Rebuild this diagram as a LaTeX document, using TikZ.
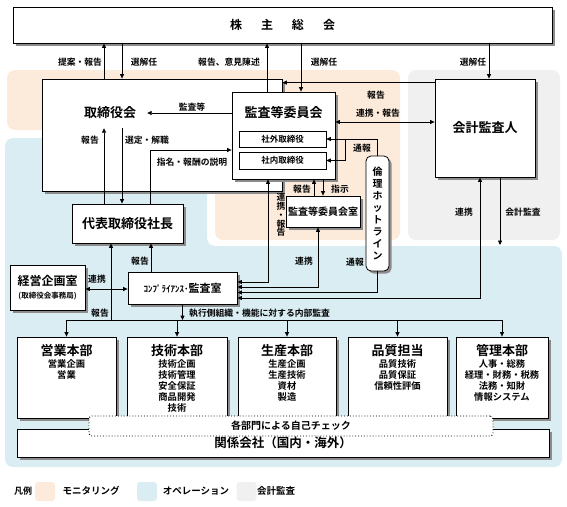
\documentclass[tikz,border=0pt]{standalone}
\usepackage{fontspec}
\setmainfont{Noto Sans CJK JP Bold}
\usetikzlibrary{shadows,arrows.meta}

\definecolor{monitor}{HTML}{FCEADA}
\definecolor{operate}{HTML}{DAEDF3}
\definecolor{audit}{HTML}{F0F0F0}

\tikzstyle{block} = [rectangle, draw=black, fill=white, line width=0.8pt, inner sep=0pt, drop shadow={shadow xshift=2.5pt, shadow yshift=-2.5pt, fill=black!45, opacity=1}]
\tikzstyle{member} = [rectangle, draw=black, fill=white, line width=0.6pt, inner sep=0pt, minimum width=87pt, font=\fontsize{8.5}{10}\selectfont]
\tikzstyle{arrow} = [line width=0.75pt, -{Triangle[length=4.5pt,width=4pt]}]
\tikzstyle{biarrow} = [line width=0.75pt, {Triangle[length=4.5pt,width=4pt]}-{Triangle[length=4.5pt,width=4pt]}]
\tikzstyle{note} = [inner sep=0pt, font=\fontsize{8.8}{10}\selectfont]
\tikzstyle{swatch} = [rectangle, rounded corners=3pt, minimum width=20pt, minimum height=19pt]

\begin{document}
\begin{tikzpicture}[x=1pt, y=-1pt]
	\useasboundingbox (0,0) rectangle (567,506);

	% areas
	\fill[operate, rounded corners=8pt] (5,467) -- (5,138) -- (207,138) -- (207,246) -- (562,246) -- (562,467) -- cycle;
	\fill[monitor, rounded corners=8pt] (7,70) -- (400,70) -- (400,240) -- (215,240) -- (215,130) -- (7,130) -- cycle;
	\fill[audit, rounded corners=8pt] (408,70) rectangle (560,240);

	% boxes
	\node[block, minimum width=539pt, minimum height=36pt, font=\fontsize{12}{14}\selectfont] (meeting) at (282.5,25) {株\hspace{19pt}主\hspace{19pt}総\hspace{19pt}会};
	\node[block, minimum width=240pt, minimum height=112pt] (board) at (162,135) {};
	\node[inner sep=0pt, minimum width=74pt, minimum height=30pt, font=\fontsize{13}{15}\selectfont] (boardname) at (110,113) {取締役会};
	\node[block, minimum width=103pt, minimum height=87pt] (committee) at (283.5,135.5) {};
	\node[inner sep=0pt, font=\fontsize{13}{15}\selectfont] (committeename) at (283.5,113) {監査等委員会};
	\node[member, minimum height=16pt] (outdir) at (282.5,139) {社外取締役};
	\node[member, minimum height=17pt] (indir) at (282.5,160.5) {社内取締役};
	\node[block, minimum width=100pt, minimum height=98pt, font=\fontsize{13}{15}\selectfont] (auditor) at (485,128) {会計監査人};
	\node[block, minimum width=111pt, minimum height=39pt, font=\fontsize{13}{15}\selectfont] (president) at (127.5,223.5) {代表取締役社長};
	\node[block, minimum width=74pt, minimum height=31pt, font=\fontsize{10}{12}\selectfont] (office) at (323,211.5) {監査等委員会室};
	\node[block, rounded corners=5pt, minimum width=23pt, minimum height=115pt, align=center, font=\fontsize{10}{12.1}\selectfont] (hotline) at (377.5,213.5) {倫\\理\\ホ\\ッ\\ト\\ラ\\イ\\ン};
	\node[block, minimum width=109pt, minimum height=32pt] (compliance) at (182.5,288) {{\fontsize{9}{11}\selectfont ｺﾝﾌﾟﾗｲｱﾝｽ･}{\fontsize{11}{13}\selectfont 監査室}};
	\node[block, minimum width=75pt, minimum height=45pt, align=center] (planning) at (47.5,287.5) {{\fontsize{12}{14}\selectfont 経営企画室}\\[1pt]{\fontsize{7.5}{9}\selectfont (取締役会事務局)}};

	\node[block, minimum width=532pt, minimum height=28pt, font=\fontsize{12.5}{14}\selectfont] (affiliates) at (283,443) {関係会社（国内・海外）};
	\foreach \n/\x/\w/\t/\items in {
		sales/66.5/99/営業本部/{営業企画\\営業},
		tech/177/100/技術本部/{技術企画\\技術管理\\安全保証\\商品開発\\技術},
		prod/287/98/生産本部/{生産企画\\生産技術\\資材\\製造},
		quality/397.5/99/品質担当/{品質技術\\品質保証\\信頼性評価},
		admin/502/92/管理本部/{人事・総務\\経理・財務・税務\\法務・知財\\情報システム}}
	{
		\node[block, minimum width=\w pt, minimum height=81pt] (\n) at (\x,377.5) {};
		\node[inner sep=0pt, font=\fontsize{13}{15}\selectfont] (\n title) at (\x,351) {\t};
		\node[inner sep=0pt, anchor=north, align=center, font=\fontsize{9.3}{11.2}\selectfont] (\n items) at (\x,359) {\items};
	}
	\node[draw=black, dotted, line width=0.9pt, fill=white, rounded corners=3pt, minimum width=404pt, minimum height=20pt, inner sep=0pt, font=\fontsize{10}{12}\selectfont] (selfcheck) at (291,426) {各部門による自己チェック};

	% connectors
	\coordinate (bus) at (0,320);
	\coordinate (auditend) at (500,245);
	\draw[arrow] ([xshift=-6pt]boardname.south |- board.north) -- ([xshift=-6pt]boardname.south |- meeting.south);
	\draw[arrow] ([xshift=12pt]boardname.south |- meeting.south) -- ([xshift=12pt]boardname.south |- board.north);
	\draw[arrow] ([xshift=-16.5pt]committee.north) -- ([xshift=-16.5pt]committee.north |- meeting.south);
	\draw[arrow] ([xshift=17.5pt]committee.north |- meeting.south) -- ([xshift=17.5pt]committee.north);
	\draw[arrow] ([xshift=4pt]auditor.north |- meeting.south) -- ([xshift=4pt]auditor.north);
	\draw[arrow] ([yshift=-4pt]auditor.north west) -- ([yshift=-4pt]auditor.north west -| board.east);
	\draw[biarrow] ([yshift=13.5pt]committee.east) -- ([yshift=13.5pt]committee.east -| auditor.west);
	\draw[arrow] (committee.west |- boardname.east) -- (boardname.east);
	\draw[arrow] ([xshift=-6pt]boardname.south |- president.north) -- ([xshift=-6pt]boardname.south);
	\draw[arrow] ([xshift=12pt]boardname.south) -- ([xshift=12pt]boardname.south |- president.north);
	\draw[arrow] ([xshift=22.5pt]president.north) |- ([yshift=-14.5pt]committee.west);
	\draw[line width=0.75pt] (hotline.north) |- ([xshift=19pt]outdir.east);
	\draw[arrow] ([xshift=19pt]outdir.east) -- (outdir.east);
	\draw[arrow] ([xshift=19pt]outdir.east) |- (indir.east);
	\draw[arrow] ([xshift=-9pt]office.north) -- ([xshift=-9pt]office.north |- committee.south);
	\draw[arrow] (office.north |- committee.south) -- (office.north);
	\draw[biarrow] ([yshift=6pt]compliance.east) -| ([xshift=-15.5pt]committee.south);
	\draw[biarrow] ([yshift=1pt]compliance.east) -| ([xshift=-5pt]office.south);
	\draw[arrow] (hotline.south) |- ([yshift=-4.5pt]compliance.east);
	\draw[biarrow] ([yshift=-10pt]compliance.east) -| ([xshift=-5pt]auditor.south);
	\draw[arrow] ([xshift=15pt]auditor.south) -- (auditend);
	\draw[arrow] ([xshift=-31.5pt]compliance.north) -- ([xshift=-31.5pt]compliance.north |- president.south);
	\draw[biarrow] ([yshift=-1.5pt]planning.east) -- ([yshift=-1.5pt]planning.east -| compliance.west);
	\draw[line width=0.75pt] (sales.north |- bus) -- (admin.north |- bus);
	\draw[arrow] ([xshift=-16.5pt]president.south |- bus) -- ([xshift=-16.5pt]president.south);
	\draw[arrow] (compliance.south) -- (compliance.south |- bus);
	\foreach \n in {sales,tech,prod,quality,admin}
		\draw[arrow] (\n.north |- bus) -- (\n.north);

	% labels
	\node[note] (propose) at (80,62) {提案・報告};
	\node[note] (elect1) at (144,62) {選解任};
	\node[note] (opinion) at (229,62) {報告、意見陳述};
	\node[note] (elect2) at (324,62) {選解任};
	\node[note] (elect3) at (473,62) {選解任};
	\node[note] (audrep) at (376,95) {報告};
	\node[note] (link1) at (378,113) {連携・報告};
	\node[note] (auditetc) at (192,107) {監査等};
	\node[note] (rep1) at (90,140) {報告};
	\node[note] (select) at (147,140) {選定・解職};
	\node[note] (nominate) at (192,162) {指名・報酬の説明};
	\node[note] (whistle1) at (362,148) {通報};
	\node[note] (rep2) at (302,189) {報告};
	\node[note] (order) at (340,189) {指示};
	\node[note, align=center, font=\fontsize{8.8}{8.8}\selectfont] (link2) at (281,215) {連\\携\\・\\報\\告};
	\node[note] (link3) at (304,261) {連携};
	\node[note] (whistle2) at (355,262) {通報};
	\node[note] (link4) at (464,212) {連携};
	\node[note] (acctaudit) at (523,212) {会計監査};
	\node[note] (rep3) at (140,261) {報告};
	\node[note] (link5) at (97,279) {連携};
	\node[note] (rep4) at (100,313) {報告};
	\node[note, anchor=west] (internal) at (189,313) {執行側組織・機能に対する内部監査};

	% legend
	\node[note, font=\fontsize{9}{11}\selectfont] (legend) at (23,491) {凡例};
	\node[swatch, fill=monitor] (swmonitor) at (45,491.5) {};
	\node[note, font=\fontsize{9.5}{11}\selectfont] (legmonitor) at (91,491) {モニタリング};
	\node[swatch, fill=operate] (swoperate) at (147,491.5) {};
	\node[note, font=\fontsize{9.5}{11}\selectfont] (legoperate) at (196,491) {オペレーション};
	\node[swatch, fill=audit] (swaudit) at (246.5,491.5) {};
	\node[note, font=\fontsize{9.5}{11}\selectfont] (legaudit) at (276,491) {会計監査};
\end{tikzpicture}
\end{document}
